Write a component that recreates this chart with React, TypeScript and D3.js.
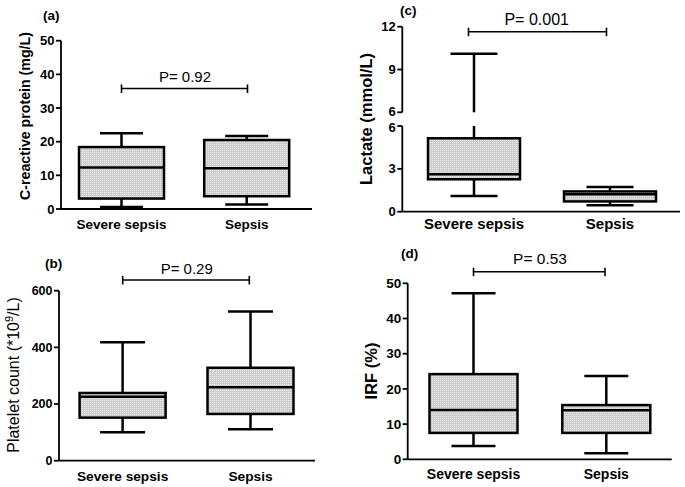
import React from "react";
import * as d3 from "d3";

const groups = ["Severe sepsis", "Sepsis"];

// box stats: [min, q1, median, q3, max]
const crpSevere = [0.6, 3.1, 12.3, 18.4, 22.5];
const crpSepsis = [1.3, 3.8, 12.1, 20.5, 21.7];
const crpTicks = [0, 10, 20, 30, 40, 50];

const pltSevere = [100, 152, 226, 239, 418];
const pltSepsis = [111, 165, 259, 328, 527];
const pltTicks = [0, 200, 400, 600];

const lacSevere = [1.1, 2.27, 2.62, 5.14, 10.1];
const lacSepsis = [0.45, 0.72, 1.22, 1.42, 1.73];
const lacTicksLow = [0, 3, 6];
const lacTicksHigh = [6, 9, 12];

const irfSevere = [3.8, 7.5, 14.0, 24.2, 47.2];
const irfSepsis = [1.7, 7.5, 13.9, 15.4, 23.7];
const irfTicks = [0, 10, 20, 30, 40, 50];

const pLabels = ["P= 0.92", "P= 0.29", "P= 0.001", "P= 0.53"];
const pLevels = [35.8, 638, 11.65, 53.3];
const panelLetters = ["(a)", "(b)", "(c)", "(d)"];

const FONT = "'Liberation Sans', Arial, sans-serif";

type Cfg = {
  letter: string;
  letterX: number;
  letterY: number;
  axisX: number;
  axisEnd: number;
  y0: number;
  y1: number;
  domain: [number, number];
  ticks: number[];
  c1: number;
  c2: number;
  boxW: number;
  capW: number;
  data: number[][];
  p: string;
  pLevel: number;
  bx1: number;
  bx2: number;
  pTextX: number;
  pTextY: number;
  pFont: number;
  xLabelY: number;
  xFont: number;
  tickFont: number;
  yLabel: React.ReactNode;
  yLabelX: number;
  yLabelY: number;
  yFont: number;
  yBold: boolean;
};

function BoxMark({ cx, s, y, boxW, capW }: { cx: number; s: number[]; y: (v: number) => number; boxW: number; capW: number }) {
  const [mn, q1, md, q3, mx] = s;
  return (
    <g stroke="#000" strokeWidth={2.5} fill="none">
      <line x1={cx} x2={cx} y1={y(q3)} y2={y(mx)} />
      <line x1={cx} x2={cx} y1={y(q1)} y2={y(mn)} />
      <line x1={cx - capW / 2} x2={cx + capW / 2} y1={y(mx)} y2={y(mx)} />
      <line x1={cx - capW / 2} x2={cx + capW / 2} y1={y(mn)} y2={y(mn)} />
      <rect x={cx - boxW / 2} y={y(q3)} width={boxW} height={y(q1) - y(q3)} fill="url(#dots)" />
      <line x1={cx - boxW / 2} x2={cx + boxW / 2} y1={y(md)} y2={y(md)} />
    </g>
  );
}

function Bracket({ x1, x2, yy }: { x1: number; x2: number; yy: number }) {
  return (
    <g stroke="#000" strokeWidth={1.6}>
      <line x1={x1} x2={x2} y1={yy} y2={yy} />
      <line x1={x1} x2={x1} y1={yy - 4} y2={yy + 4.5} />
      <line x1={x2} x2={x2} y1={yy - 4} y2={yy + 4.5} />
    </g>
  );
}

function Panel({ c }: { c: Cfg }) {
  const y = d3.scaleLinear().domain(c.domain).range([c.y0, c.y1]);
  const x = d3.scalePoint<string>().domain(groups).range([c.c1, c.c2]);
  return (
    <g fontFamily={FONT}>
      <text x={c.letterX} y={c.letterY} fontSize={13.5} fontWeight="bold">{c.letter}</text>
      <line x1={c.axisX} x2={c.axisX} y1={c.y0} y2={c.y1} stroke="#000" strokeWidth={1.8} />
      <line x1={c.axisX} x2={c.axisEnd} y1={c.y0} y2={c.y0} stroke="#000" strokeWidth={1.8} />
      {c.ticks.map((t) => (
        <g key={t}>
          <line x1={c.axisX - 5} x2={c.axisX} y1={y(t)} y2={y(t)} stroke="#000" strokeWidth={1.8} />
          <text x={c.axisX - 6.5} y={y(t)} dy="0.35em" textAnchor="end" fontSize={c.tickFont} fontWeight="bold">{t}</text>
        </g>
      ))}
      {groups.map((g, i) => (
        <g key={g}>
          <BoxMark cx={x(g)!} s={c.data[i]} y={y} boxW={c.boxW} capW={c.capW} />
          <text x={x(g)!} y={c.xLabelY} textAnchor="middle" fontSize={c.xFont} fontWeight="bold">{g}</text>
        </g>
      ))}
      <Bracket x1={c.bx1} x2={c.bx2} yy={y(c.pLevel)} />
      <text x={c.pTextX} y={c.pTextY} textAnchor="middle" fontSize={c.pFont}>{c.p}</text>
      <text
        transform={`translate(${c.yLabelX},${c.yLabelY}) rotate(-90)`}
        textAnchor="middle"
        fontSize={c.yFont}
        fontWeight={c.yBold ? "bold" : "normal"}
      >
        {c.yLabel}
      </text>
    </g>
  );
}

function LactatePanel() {
  const yLow = d3.scaleLinear().domain([0, 6]).range([211.7, 126]);
  const yHigh = d3.scaleLinear().domain([6, 12]).range([112.3, 26.7]);
  const y = (v: number) => (v <= 6 ? yLow(v) : yHigh(v));
  const x = d3.scalePoint<string>().domain(groups).range([474, 610]);
  const axisX = 402.3;
  const boxW = 92;
  const capW = 47;
  const data = [lacSevere, lacSepsis];
  return (
    <g fontFamily={FONT}>
      <text x={400} y={15} fontSize={13.5} fontWeight="bold">{panelLetters[2]}</text>
      <line x1={axisX} x2={axisX} y1={yLow(0)} y2={yLow(6)} stroke="#000" strokeWidth={1.8} />
      <line x1={axisX} x2={axisX} y1={yHigh(6)} y2={yHigh(12)} stroke="#000" strokeWidth={1.8} />
      <line x1={axisX} x2={680} y1={yLow(0)} y2={yLow(0)} stroke="#000" strokeWidth={1.8} />
      {lacTicksLow.map((t) => (
        <g key={"l" + t}>
          <line x1={axisX - 5} x2={axisX} y1={yLow(t)} y2={yLow(t)} stroke="#000" strokeWidth={1.8} />
          <text x={axisX - 6.5} y={yLow(t) + (t === 6 ? 1.2 : 0)} dy="0.35em" textAnchor="end" fontSize={13} fontWeight="bold">{t}</text>
        </g>
      ))}
      {lacTicksHigh.map((t) => (
        <g key={"h" + t}>
          <line x1={axisX - 5} x2={axisX} y1={yHigh(t)} y2={yHigh(t)} stroke="#000" strokeWidth={1.8} />
          <text x={axisX - 6.5} y={yHigh(t) - (t === 6 ? 1.2 : 0)} dy="0.35em" textAnchor="end" fontSize={13} fontWeight="bold">{t}</text>
        </g>
      ))}
      {groups.map((g, i) => {
        const cx = x(g)!;
        const [mn, q1, md, q3, mx] = data[i];
        return (
          <g key={g}>
            <g stroke="#000" strokeWidth={2.5} fill="none">
              {mx > 6 ? (
                <>
                  <line x1={cx} x2={cx} y1={y(q3)} y2={yLow(6)} />
                  <line x1={cx} x2={cx} y1={yHigh(6)} y2={y(mx)} />
                </>
              ) : (
                <line x1={cx} x2={cx} y1={y(q3)} y2={y(mx)} />
              )}
              <line x1={cx} x2={cx} y1={y(q1)} y2={y(mn)} />
              <line x1={cx - capW / 2} x2={cx + capW / 2} y1={y(mx)} y2={y(mx)} />
              <line x1={cx - capW / 2} x2={cx + capW / 2} y1={y(mn)} y2={y(mn)} />
              <rect x={cx - boxW / 2} y={y(q3)} width={boxW} height={y(q1) - y(q3)} fill="url(#dots)" />
              <line x1={cx - boxW / 2} x2={cx + boxW / 2} y1={y(md)} y2={y(md)} />
            </g>
            <text x={cx} y={229} textAnchor="middle" fontSize={15} fontWeight="bold">{g}</text>
          </g>
        );
      })}
      <Bracket x1={468.5} x2={606.5} yy={y(pLevels[2])} />
      <text x={536.7} y={25} textAnchor="middle" fontSize={16}>{pLabels[2]}</text>
      <text transform="translate(372,119) rotate(-90)" textAnchor="middle" fontSize={16.5} fontWeight="bold">
        Lactate (mmol/L)
      </text>
    </g>
  );
}

const cfgA: Cfg = {
  letter: panelLetters[0], letterX: 43, letterY: 20,
  axisX: 61, axisEnd: 312, y0: 209, y1: 40.7, domain: [0, 50], ticks: crpTicks,
  c1: 121.5, c2: 246.7, boxW: 85, capW: 43, data: [crpSevere, crpSepsis],
  p: pLabels[0], pLevel: pLevels[0], bx1: 121.5, bx2: 247.5, pTextX: 185, pTextY: 82, pFont: 15,
  xLabelY: 229, xFont: 13.5, tickFont: 13,
  yLabel: "C-reactive protein (mg/L)", yLabelX: 30, yLabelY: 116, yFont: 14.2, yBold: true,
};

const cfgB: Cfg = {
  letter: panelLetters[1], letterX: 45, letterY: 268,
  axisX: 59, axisEnd: 315, y0: 460.7, y1: 290.7, domain: [0, 600], ticks: pltTicks,
  c1: 122.6, c2: 250.5, boxW: 86, capW: 45, data: [pltSevere, pltSepsis],
  p: pLabels[1], pLevel: pLevels[1], bx1: 122.7, bx2: 249.3, pTextX: 186.7, pTextY: 273.5, pFont: 15,
  xLabelY: 480.5, xFont: 13.7, tickFont: 12.5,
  yLabel: (
    <>
      Platelet count (*10<tspan dy="-6" fontSize={11}>9</tspan>
      <tspan dy="6">/L)</tspan>
    </>
  ),
  yLabelX: 19, yLabelY: 375, yFont: 16, yBold: false,
};

const cfgD: Cfg = {
  letter: panelLetters[3], letterX: 401, letterY: 258,
  axisX: 407.7, axisEnd: 671.7, y0: 459.3, y1: 283.3, domain: [0, 50], ticks: irfTicks,
  c1: 473.5, c2: 606.3, boxW: 88, capW: 44, data: [irfSevere, irfSepsis],
  p: pLabels[3], pLevel: pLevels[3], bx1: 473.5, bx2: 605, pTextX: 540, pTextY: 264, pFont: 15.5,
  xLabelY: 479.3, xFont: 14, tickFont: 13.5,
  yLabel: "IRF (%)", yLabelX: 377, yLabelY: 371, yFont: 16.5, yBold: true,
};

export default function App() {
  return (
    <svg width={685} height={487} style={{ position: "absolute", left: 0, top: 0, background: "#fff" }}>
      <defs>
        <pattern id="dots" width={2} height={2} patternUnits="userSpaceOnUse">
          <rect width={2} height={2} fill="#cdcdcd" />
          <rect width={1} height={1} fill="#ececec" />
        </pattern>
      </defs>
      <rect width={685} height={487} fill="#fff" />
      <Panel c={cfgA} />
      <Panel c={cfgB} />
      <LactatePanel />
      <Panel c={cfgD} />
    </svg>
  );
}
